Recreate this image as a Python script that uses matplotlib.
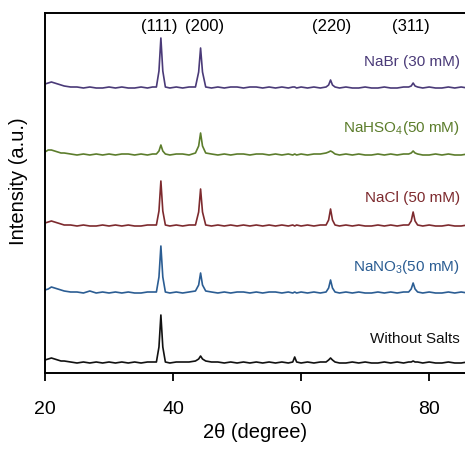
import numpy as np
import matplotlib
matplotlib.use('Agg')
import matplotlib.pyplot as plt

plt.rcParams['font.family'] = ['Liberation Sans', 'DejaVu Sans']
plt.rcParams['mathtext.fontset'] = 'custom'
plt.rcParams['mathtext.rm'] = 'Liberation Sans'
plt.rcParams['mathtext.it'] = 'Liberation Sans'

# 2-theta sample points (degree)
two_theta = [20.0, 20.5, 21.0, 21.5, 22.0, 22.5, 23.0, 24.0, 25.0, 26.0,
             27.0, 28.0, 29.0, 30.0, 31.0, 32.0, 33.0, 34.0, 35.0, 36.0,
             36.8, 37.4, 37.8, 38.1, 38.4, 38.8, 39.5, 40.5, 41.5, 42.5,
             43.5, 44.0, 44.3, 44.6, 45.1, 46.0, 47.0, 48.0, 49.0, 50.0,
             51.0, 52.0, 53.0, 54.0, 55.0, 56.0, 57.0, 58.0, 58.7, 59.0,
             59.3, 60.0, 61.0, 62.0, 63.0, 63.9, 64.3, 64.6, 64.9, 65.3,
             66.0, 67.0, 68.0, 69.0, 70.0, 71.0, 72.0, 73.0, 74.0, 75.0,
             76.0, 76.8, 77.2, 77.5, 77.8, 78.2, 79.0, 80.0, 81.0, 82.0,
             83.0, 84.0, 85.0, 86.0]

# intensities above each trace's own baseline (a.u.)
nabr = [4, 5, 6, 5, 4, 3, 2, 1, 1, 0,
        1, 0, 0, 1, 0, 1, 0, 0, 1, 0,
        1, 1, 17, 50, 17, 1, 0, 1, 0, 1,
        1, 16, 40, 16, 1, 0, 1, 0, 1, 1,
        0, 1, 1, 0, 1, 0, 1, 0, 1, 1,
        0, 1, 0, 1, 0, 1, 3, 8, 3, 1,
        0, 1, 0, 0, 1, 0, 0, 1, 0, 0,
        1, 1, 2, 5, 2, 1, 0, 1, 0, 0,
        1, 0, 1, 0]
nahso4 = [3, 5, 5, 4, 3, 2, 2, 1, 0, 1,
          0, 1, 0, 1, 0, 1, 1, 0, 1, 0,
          1, 1, 4, 10, 4, 1, 0, 1, 1, 0,
          2, 9, 22, 9, 2, 1, 0, 1, 0, 1,
          1, 0, 1, 1, 0, 1, 0, 1, 0, 1,
          0, 1, 0, 1, 1, 2, 3, 4, 3, 1,
          0, 1, 0, 1, 0, 0, 1, 0, 1, 0,
          1, 1, 2, 4, 2, 1, 0, 0, 1, 0,
          1, 0, 0, 1]
nacl = [3, 4, 5, 4, 3, 2, 1, 1, 0, 1,
        0, 0, 1, 0, 1, 0, 1, 0, 0, 1,
        1, 1, 15, 45, 15, 1, 0, 1, 0, 1,
        1, 14, 37, 14, 1, 0, 1, 0, 1, 0,
        1, 0, 1, 0, 1, 0, 1, 0, 1, 0,
        1, 0, 1, 0, 1, 1, 6, 17, 6, 1,
        0, 1, 0, 1, 0, 0, 1, 0, 1, 0,
        1, 1, 5, 14, 5, 1, 0, 1, 0, 0,
        1, 0, 0, 1]
nano3 = [3, 4, 6, 5, 4, 3, 2, 1, 1, 0,
         2, 0, 1, 0, 1, 0, 1, 0, 0, 1,
         1, 1, 16, 47, 16, 1, 0, 1, 0, 1,
         2, 8, 20, 8, 2, 1, 0, 1, 0, 1,
         1, 0, 1, 0, 1, 1, 0, 1, 0, 1,
         0, 1, 0, 1, 0, 1, 5, 13, 5, 1,
         0, 1, 0, 1, 0, 0, 1, 0, 1, 0,
         1, 1, 4, 10, 4, 1, 0, 1, 0, 0,
         1, 0, 1, 0]
without = [3, 4, 5, 4, 3, 2, 2, 1, 0, 1,
           0, 1, 0, 1, 0, 1, 0, 1, 0, 1,
           1, 1, 16, 48, 16, 1, 0, 1, 1, 1,
           2, 4, 7, 4, 2, 1, 1, 0, 1, 0,
           1, 0, 1, 0, 1, 0, 1, 0, 1, 6,
           1, 0, 1, 0, 1, 1, 3, 5, 3, 1,
           0, 0, 1, 0, 1, 0, 0, 1, 0, 1,
           0, 1, 1, 2, 1, 1, 0, 1, 0, 0,
           1, 0, 0, 1]

series = [nabr, nahso4, nacl, nano3, without]
labels = ['NaBr (30 mM)', 'NaHSO$_4$(50 mM)', 'NaCl (50 mM)',
          'NaNO$_3$(50 mM)', 'Without Salts']
colors = ['#4a3a78', '#5c7d2c', '#7d2a2e', '#2b5d93', '#111111']
offsets = [285, 218, 147, 80, 10]
label_y = [311, 245, 175, 106, 34]

planes = ['(111)', '(200)', '(220)', '(311)']
plane_pos = [37.8, 45.0, 64.7, 77.2]

fig = plt.figure(figsize=(4.65, 4.53), dpi=100)
ax = fig.add_axes([45 / 465, 80 / 453, 1 - 45 / 465, 360 / 453])

for vals, lab, col, off, ly in zip(series, labels, colors, offsets, label_y):
    ax.plot(two_theta, np.array(vals) + off, color=col, lw=1.2)
    ax.text(84.8, ly, lab, color=col, ha='right', va='center', fontsize=11)

for p, x in zip(planes, plane_pos):
    ax.text(x, 346, p, ha='center', va='center', fontsize=12)

ax.set_xlim(20, 85.6)
ax.set_ylim(0, 360)
ax.set_xticks([20, 40, 60, 80])
ax.set_yticks([])
ax.tick_params(axis='x', direction='out', length=6, width=1.3, labelsize=14, pad=14)
for s in ['left', 'bottom', 'top']:
    ax.spines[s].set_linewidth(1.4)
ax.spines['right'].set_visible(False)
ax.set_xlabel('2θ (degree)', fontsize=14.5, labelpad=4)
ax.set_ylabel('Intensity (a.u.)', fontsize=14.5)
ax.yaxis.set_label_coords(-0.04, 0.533)

fig.savefig('out.png', dpi=100)
